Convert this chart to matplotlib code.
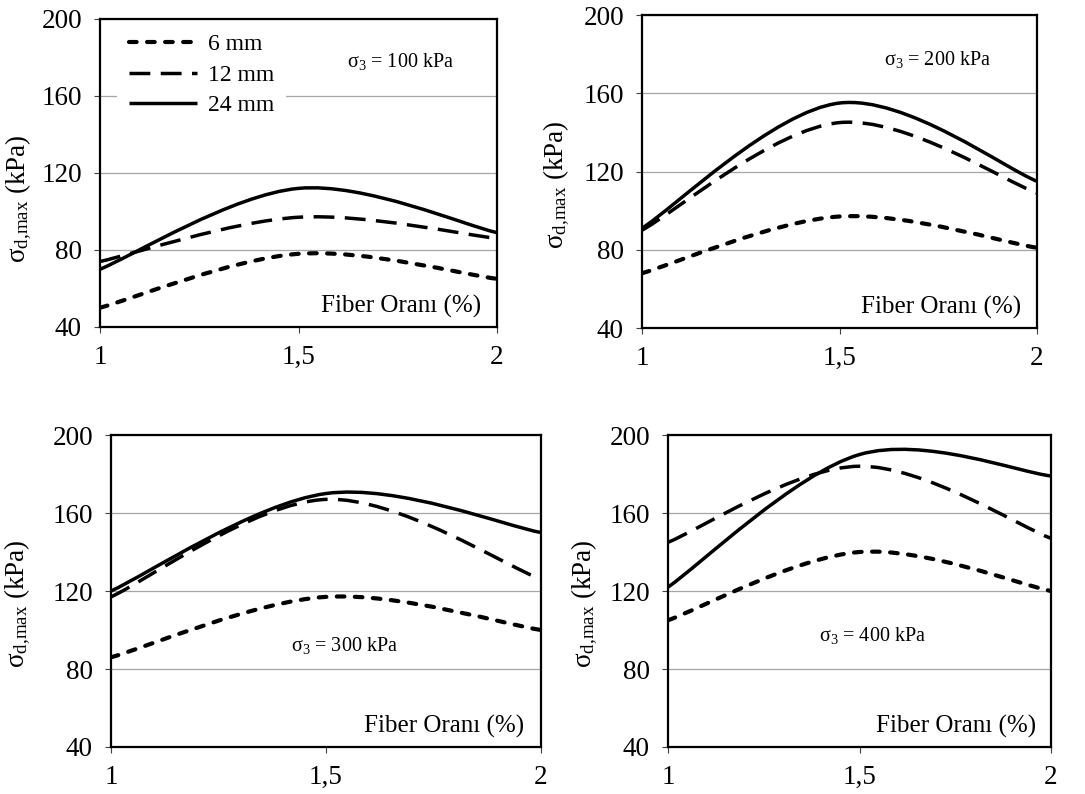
import matplotlib
matplotlib.use("Agg")
import matplotlib.pyplot as plt
from matplotlib.path import Path
from matplotlib.patches import PathPatch
from matplotlib.lines import Line2D

plt.rcParams['font.family'] = ['Liberation Serif', 'DejaVu Serif']
plt.rcParams['mathtext.fontset'] = 'custom'
plt.rcParams['mathtext.rm'] = 'Liberation Serif'
plt.rcParams['mathtext.it'] = 'Liberation Serif'
plt.rcParams['mathtext.bf'] = 'Liberation Serif'
plt.rcParams['lines.scale_dashes'] = False

# Fiber ratio (%) and max deviator stress (kPa) for each confining pressure
fiber = [1.0, 1.5, 2.0]
fiber_labels = ['1', '1,5', '2']

p100_6mm = [50, 78, 65]
p100_12mm = [74, 97, 86]
p100_24mm = [70, 112, 89]

p200_6mm = [68, 97, 81]
p200_12mm = [90, 145, 109]
p200_24mm = [91, 155, 115]

p300_6mm = [86, 117, 100]
p300_12mm = [117, 167, 126]
p300_24mm = [120, 170, 150]

p400_6mm = [105, 140, 120]
p400_12mm = [145, 184, 147]
p400_24mm = [122, 190, 179]

lengths = ['6 mm', '12 mm', '24 mm']
pressures = ['100', '200', '300', '400']

# line style per fiber length: (dash pattern, capstyle, width)
styles = [((0, (5.5, 7.5)), 'round', 3.0),
          ((0, (15, 7.5)), 'butt', 2.5),
          ('solid', 'butt', 2.5)]


def smooth_path(x, y):
    # Bezier curve through the points, control points from neighbours
    n = len(x)
    verts = [(x[0], y[0])]
    codes = [Path.MOVETO]
    for i in range(n - 1):
        xa, ya = x[max(i - 1, 0)], y[max(i - 1, 0)]
        xb, yb = x[min(i + 2, n - 1)], y[min(i + 2, n - 1)]
        c1 = (x[i] + (x[i + 1] - xa) / 6, y[i] + (y[i + 1] - ya) / 6)
        c2 = (x[i + 1] - (xb - x[i]) / 6, y[i + 1] - (yb - y[i]) / 6)
        verts += [c1, c2, (x[i + 1], y[i + 1])]
        codes += [Path.CURVE4] * 3
    return Path(verts, codes)


fig = plt.figure(figsize=(10.85, 7.94), dpi=100)

panels = [
    ([0.0922, 0.5882, 0.3659, 0.3879], [p100_6mm, p100_12mm, p100_24mm], (1.756, 177.7), (-0.166, 0.415)),
    ([0.5917, 0.5869, 0.3641, 0.3942], [p200_6mm, p200_12mm, p200_24mm], (1.747, 177.0), (-0.177, 0.457)),
    ([0.1023, 0.0592, 0.3963, 0.3929], [p300_6mm, p300_12mm, p300_24mm], (1.544, 91.8), (-0.181, 0.458)),
    ([0.6157, 0.0592, 0.3530, 0.3929], [p400_6mm, p400_12mm, p400_24mm], (1.535, 97.4), (-0.178, 0.458)),
]

for k, (rect, series, txt_pos, ylab_pos) in enumerate(panels):
    ax = fig.add_axes(rect)
    ax.set_xlim(1, 2)
    ax.set_ylim(40, 200)
    ax.set_yticks([40, 80, 120, 160, 200])
    ax.set_xticks(fiber)
    ax.set_xticklabels(fiber_labels)
    ax.grid(axis='y', color='#a6a6a6', linewidth=0.9)
    ax.set_axisbelow(True)
    for sp in ax.spines.values():
        sp.set_linewidth(1.6)
        sp.set_color('black')
    ax.tick_params(direction='out', length=4, width=0.8, color='#404040',
                   labelsize=19.5)
    ax.tick_params(axis='y', pad=9)
    ax.tick_params(axis='x', pad=9)

    for vals, (ls, cap, lw) in zip(series, styles):
        patch = PathPatch(smooth_path(fiber, vals), fill=False, edgecolor='black',
                          linewidth=lw, linestyle=ls)
        patch.set_capstyle(cap)
        ax.add_patch(patch)

    ax.text(txt_pos[0], txt_pos[1], r'σ$_{3}$ = ' + pressures[k] + ' kPa',
            ha='center', va='center', fontsize=14.5)
    ax.text(0.96, 0.065, 'Fiber Oranı (%)', ha='right', va='center',
            fontsize=18, transform=ax.transAxes)
    ax.set_ylabel(r'σ$_{\mathrm{d{,}max}}$ (kPa)', fontsize=19.5)
    ax.yaxis.set_label_coords(*ylab_pos)

    if k == 0:
        handles = []
        for name, (ls, cap, lw) in zip(lengths, styles):
            h = Line2D([], [], color='black', linewidth=lw, linestyle=ls)
            h.set_dash_capstyle(cap)
            h.set_solid_capstyle(cap)
            handles.append(h)
        leg = ax.legend(handles, lengths, loc='upper left', bbox_to_anchor=(0.043, 0.99),
                        fontsize=17, handlelength=2.9, handletextpad=0.45,
                        labelspacing=0.38, borderpad=0.5, borderaxespad=0,
                        frameon=True, fancybox=False, framealpha=1)
        leg.get_frame().set_edgecolor('none')
        leg.get_frame().set_facecolor('white')

fig.savefig('out.png', dpi=100)
